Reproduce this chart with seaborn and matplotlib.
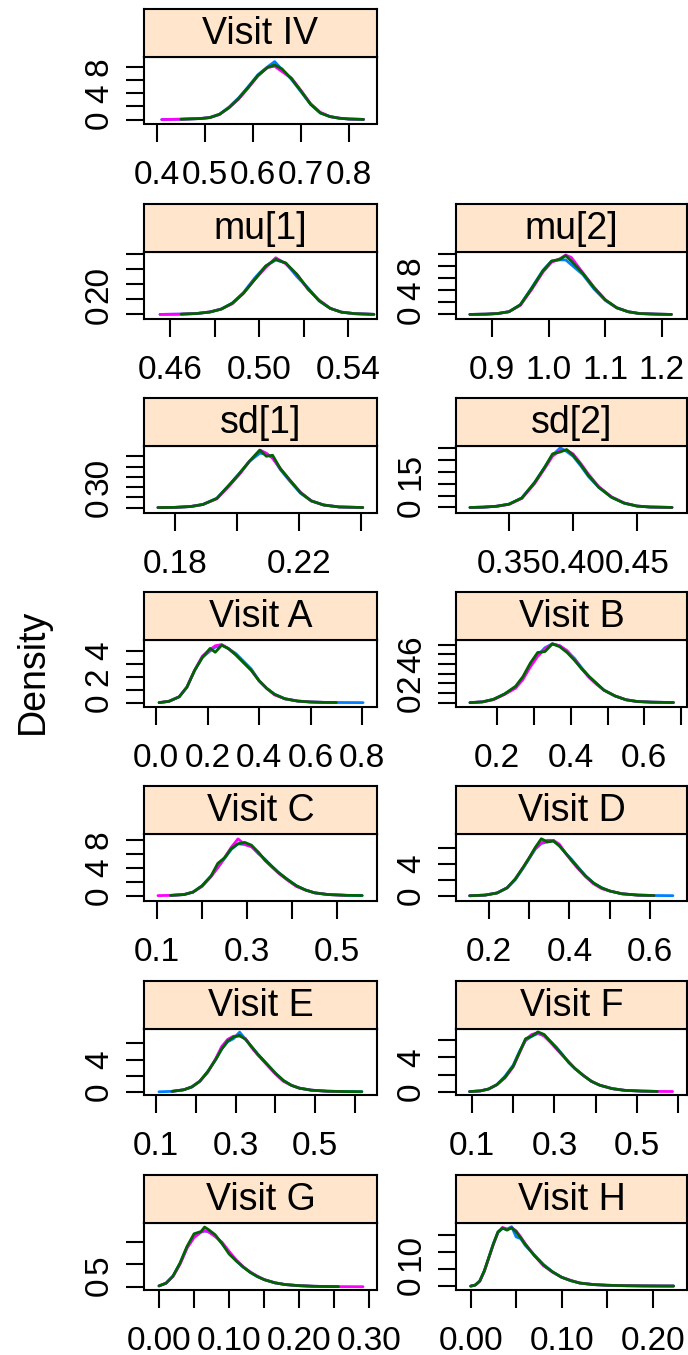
import numpy as np
import pandas as pd
import matplotlib
matplotlib.use("Agg")
import matplotlib.pyplot as plt
import seaborn as sns

nan = np.nan

# ---------------- data ----------------
chains = ["1", "2", "3"]
chain_colors = ["#0080ff", "#ff00ff", "#006400"]

iv_x = [0.41, 0.45, 0.49, 0.51, 0.53, 0.55, 0.57, 0.59, 0.61, 0.63, 0.645, 0.66, 0.68, 0.70, 0.72, 0.74, 0.76, 0.78, 0.80, 0.83]
iv_c1 = [0.0, 0.05, 0.15, 0.3, 0.8, 1.9, 3.3, 5.0, 6.8, 8.0, 8.8, 7.6, 6.1, 4.2, 2.3, 1.0, 0.45, 0.2, 0.08, 0.02]
iv_c2 = [0.0, 0.05, 0.15, 0.3, 0.75, 1.8, 3.1, 4.8, 6.6, 7.9, 8.1, 7.3, 6.3, 4.4, 2.4, 1.1, 0.45, 0.2, 0.08, 0.02]
iv_c3 = [nan, 0.05, 0.15, 0.3, 0.8, 1.8, 3.2, 4.9, 6.7, 7.9, 8.3, 7.7, 6.2, 4.3, 2.3, 1.0, 0.45, 0.2, 0.08, 0.02]

mu1_x = [0.4555, 0.465, 0.472, 0.478, 0.483, 0.488, 0.493, 0.498, 0.503, 0.5075, 0.512, 0.517, 0.522, 0.527, 0.532, 0.537, 0.543, 0.5516]
mu1_c1 = [0, 0.2, 0.6, 1.6, 3.5, 7.5, 14.5, 24, 32, 36, 34, 25, 17.5, 9, 4, 1.5, 0.5, 0.05]
mu1_c2 = [0, 0.2, 0.6, 1.7, 3.6, 7.0, 14, 23, 31, 37.5, 33.5, 26.5, 16.5, 9.5, 4, 1.5, 0.5, 0.05]
mu1_c3 = [nan, 0.2, 0.6, 1.6, 3.5, 7.5, 14, 23, 32, 36.5, 34, 26.5, 17, 9, 4, 1.5, 0.5, 0.05]

mu2_x = [0.861, 0.89, 0.91, 0.93, 0.95, 0.97, 0.99, 1.005, 1.02, 1.03, 1.04, 1.06, 1.08, 1.10, 1.12, 1.14, 1.16, 1.19, 1.2165]
mu2_c1 = [0, 0.05, 0.15, 0.45, 1.6, 4.4, 7.3, 8.8, 9.0, 9.0, 8.2, 6.6, 4.2, 2.3, 1.1, 0.45, 0.15, 0.05, 0.0]
mu2_c2 = [0, 0.05, 0.15, 0.45, 1.5, 4.1, 7.0, 8.6, 9.2, 9.8, 9.4, 6.9, 4.5, 2.4, 1.1, 0.45, 0.15, 0.05, 0.0]
mu2_c3 = [0, 0.05, 0.15, 0.45, 1.6, 4.3, 7.2, 8.8, 9.1, 9.7, 8.8, 6.8, 4.4, 2.4, 1.1, 0.45, 0.15, 0.05, 0.0]

sd1_x = [0.1745, 0.18, 0.185, 0.189, 0.1935, 0.1975, 0.201, 0.204, 0.2074, 0.2095, 0.2115, 0.214, 0.217, 0.2205, 0.224, 0.228, 0.233, 0.2406]
sd1_c1 = [0, 0.2, 1, 3, 9, 22, 34, 45, 53, 52, 49, 37, 26, 14, 6.5, 2.5, 0.6, 0.05]
sd1_c2 = [0, 0.2, 1, 3, 8.5, 21, 33, 45, 56, 53, 48, 38, 27, 15, 6.5, 2.5, 0.6, 0.05]
sd1_c3 = [0, 0.2, 1, 3, 9, 22, 34, 45, 56, 50, 51, 38, 27, 14.5, 6.5, 2.5, 0.6, 0.05]

sd2_x = [0.3195, 0.33, 0.34, 0.35, 0.36, 0.37, 0.378, 0.384, 0.39, 0.395, 0.40, 0.406, 0.412, 0.42, 0.43, 0.44, 0.45, 0.46, 0.4773]
sd2_c1 = [0, 0.15, 0.5, 1.4, 4, 10.5, 17, 22, 25, 23.5, 21.5, 17.5, 13, 8.5, 4.3, 1.8, 0.6, 0.2, 0.02]
sd2_c2 = [0, 0.15, 0.5, 1.3, 3.8, 10, 16.5, 21.5, 24, 24, 22.5, 18.5, 14, 8.8, 4.5, 1.9, 0.6, 0.2, 0.02]
sd2_c3 = [0, 0.15, 0.5, 1.4, 4, 10.5, 17, 22.5, 23.3, 24.3, 22, 18, 13.5, 8.5, 4.3, 1.8, 0.6, 0.2, 0.02]

a_x = [0.012, 0.05, 0.09, 0.12, 0.15, 0.18, 0.21, 0.23, 0.255, 0.28, 0.31, 0.34, 0.37, 0.40, 0.43, 0.46, 0.50, 0.55, 0.60, 0.65, 0.70, 0.75, 0.804]
a_c1 = [0, 0.1, 0.45, 1.2, 2.5, 3.5, 4.0, 4.3, 4.45, 4.2, 3.8, 3.2, 2.6, 1.7, 1.1, 0.65, 0.3, 0.12, 0.05, 0.02, 0.01, 0.005, 0.0]
a_c2 = [0, 0.1, 0.45, 1.2, 2.5, 3.6, 4.1, 4.4, 4.5, 4.2, 3.7, 3.1, 2.5, 1.7, 1.1, 0.6, 0.3, 0.12, 0.05, 0.02, 0.01, nan, nan]
a_c3 = [0, 0.1, 0.45, 1.2, 2.5, 3.5, 4.2, 3.9, 4.45, 4.2, 3.7, 3.1, 2.5, 1.7, 1.1, 0.65, 0.3, 0.12, 0.05, 0.02, 0.01, nan, nan]

b_x = [0.126, 0.16, 0.19, 0.22, 0.25, 0.27, 0.29, 0.31, 0.33, 0.35, 0.37, 0.39, 0.41, 0.43, 0.45, 0.47, 0.49, 0.52, 0.55, 0.58, 0.62, 0.679]
b_c1 = [0, 0.08, 0.35, 0.9, 1.6, 2.6, 3.9, 4.9, 5.7, 6.1, 5.9, 5.3, 4.6, 3.6, 2.7, 2.0, 1.3, 0.7, 0.3, 0.12, 0.05, 0.01]
b_c2 = [0, 0.08, 0.3, 0.85, 1.5, 2.4, 3.7, 4.8, 5.6, 6.1, 5.9, 5.4, 4.5, 3.5, 2.6, 1.9, 1.3, 0.7, 0.3, 0.12, 0.05, 0.01]
b_c3 = [0, 0.08, 0.35, 0.9, 1.7, 2.7, 4.1, 5.2, 5.3, 6.1, 5.8, 5.2, 4.4, 3.5, 2.7, 2.0, 1.3, 0.7, 0.3, 0.12, 0.05, 0.01]

c_x = [0.102, 0.13, 0.16, 0.18, 0.20, 0.22, 0.235, 0.25, 0.265, 0.28, 0.295, 0.31, 0.325, 0.34, 0.355, 0.37, 0.39, 0.41, 0.43, 0.45, 0.48, 0.52, 0.556]
c_c1 = [nan, 0.03, 0.15, 0.5, 1.4, 2.8, 4.0, 5.3, 6.6, 7.4, 7.3, 7.0, 6.0, 5.2, 4.2, 3.3, 2.3, 1.4, 0.8, 0.4, 0.15, 0.04, 0.01]
c_c2 = [0, 0.03, 0.15, 0.5, 1.3, 2.7, 4.0, 5.4, 6.9, 8.1, 7.3, 7.0, 6.2, 5.0, 4.1, 3.2, 2.2, 1.3, 0.8, 0.4, 0.15, 0.04, nan]
c_c3 = [nan, 0.03, 0.15, 0.5, 1.4, 2.8, 4.6, 5.4, 6.7, 7.4, 7.6, 7.2, 6.2, 5.1, 4.2, 3.3, 2.3, 1.4, 0.8, 0.4, 0.15, 0.04, 0.01]

d_x = [0.152, 0.19, 0.22, 0.245, 0.265, 0.285, 0.30, 0.315, 0.33, 0.345, 0.36, 0.375, 0.39, 0.405, 0.42, 0.44, 0.46, 0.48, 0.50, 0.53, 0.57, 0.61, 0.657]
d_c1 = [0, 0.08, 0.35, 1.0, 2.0, 3.5, 4.7, 5.9, 6.6, 6.8, 7.0, 6.3, 5.4, 4.6, 3.7, 2.5, 1.6, 1.0, 0.6, 0.25, 0.08, 0.03, 0.01]
d_c2 = [0, 0.08, 0.35, 1.0, 2.1, 3.6, 4.8, 6.0, 6.7, 7.0, 7.0, 6.5, 5.4, 4.4, 3.5, 2.4, 1.5, 0.9, 0.6, 0.25, 0.08, 0.03, nan]
d_c3 = [0, 0.08, 0.35, 1.0, 2.1, 3.6, 4.8, 6.1, 7.2, 6.8, 6.9, 6.3, 5.4, 4.5, 3.6, 2.5, 1.6, 1.0, 0.6, 0.25, 0.08, 0.03, nan]

e_x = [0.1075, 0.14, 0.17, 0.19, 0.21, 0.23, 0.25, 0.265, 0.28, 0.295, 0.31, 0.325, 0.34, 0.355, 0.37, 0.385, 0.40, 0.42, 0.44, 0.46, 0.49, 0.53, 0.57, 0.617]
e_c1 = [0, 0.05, 0.25, 0.6, 1.3, 2.5, 4.0, 5.3, 6.2, 6.6, 7.4, 6.5, 5.6, 4.7, 3.9, 3.1, 2.3, 1.4, 0.8, 0.45, 0.2, 0.07, 0.03, 0.01]
e_c2 = [nan, 0.05, 0.25, 0.6, 1.3, 2.4, 4.1, 5.6, 6.5, 6.9, 6.9, 6.6, 5.5, 4.6, 3.8, 3.0, 2.2, 1.3, 0.8, 0.45, 0.2, 0.07, 0.03, nan]
e_c3 = [nan, 0.05, 0.25, 0.6, 1.3, 2.5, 4.0, 5.3, 6.3, 6.8, 7.0, 6.5, 5.6, 4.7, 3.9, 3.1, 2.3, 1.4, 0.8, 0.45, 0.2, 0.07, 0.03, 0.01]

f_x = [0.094, 0.12, 0.14, 0.16, 0.18, 0.20, 0.215, 0.23, 0.245, 0.26, 0.275, 0.29, 0.305, 0.32, 0.335, 0.35, 0.37, 0.39, 0.41, 0.44, 0.47, 0.51, 0.55, 0.587]
f_c1 = [0, 0.08, 0.3, 0.8, 1.8, 3.1, 4.7, 6.0, 6.5, 6.8, 6.6, 5.9, 5.2, 4.3, 3.4, 2.7, 1.9, 1.2, 0.75, 0.35, 0.15, 0.06, 0.02, nan]
f_c2 = [0, 0.08, 0.3, 0.8, 1.6, 2.9, 4.5, 6.1, 6.7, 6.9, 6.5, 5.8, 5.0, 4.2, 3.5, 2.7, 1.9, 1.2, 0.75, 0.35, 0.15, 0.06, 0.02, 0.01]
f_c3 = [0, 0.08, 0.3, 0.8, 1.7, 3.0, 4.6, 6.2, 6.5, 7.0, 6.7, 5.9, 5.1, 4.3, 3.4, 2.7, 1.9, 1.2, 0.75, 0.35, 0.15, 0.06, 0.02, nan]

g_x = [0.0, 0.01, 0.02, 0.03, 0.04, 0.05, 0.06, 0.065, 0.07, 0.08, 0.09, 0.10, 0.11, 0.12, 0.13, 0.14, 0.15, 0.165, 0.18, 0.20, 0.22, 0.24, 0.256, 0.291]
g_c1 = [0.2, 0.8, 2.4, 5.2, 8.8, 11.0, 12.2, 12.4, 12.3, 11.4, 9.6, 7.6, 5.8, 4.4, 3.3, 2.3, 1.6, 0.9, 0.5, 0.25, 0.12, 0.06, 0.04, nan]
g_c2 = [0.2, 0.8, 2.3, 5.0, 8.6, 11.0, 12.2, 12.5, 12.3, 11.2, 9.9, 7.9, 6.0, 4.5, 3.3, 2.4, 1.6, 0.9, 0.5, 0.25, 0.12, 0.06, 0.04, 0.02]
g_c3 = [0.2, 0.8, 2.4, 5.3, 9.0, 11.8, 12.3, 13.3, 12.8, 11.6, 9.6, 7.3, 5.8, 4.4, 3.2, 2.3, 1.6, 0.9, 0.5, 0.25, 0.12, 0.06, 0.04, nan]

h_x = [0.0, 0.005, 0.01, 0.015, 0.02, 0.025, 0.03, 0.035, 0.04, 0.045, 0.05, 0.055, 0.06, 0.07, 0.08, 0.09, 0.10, 0.11, 0.12, 0.135, 0.15, 0.17, 0.19, 0.21, 0.223]
h_c1 = [0, 0.3, 1.5, 4.5, 8.5, 12.5, 15.8, 17.0, 16.8, 17.5, 14.5, 14.0, 12.0, 9.2, 6.4, 4.2, 2.6, 1.6, 0.9, 0.45, 0.25, 0.12, 0.06, 0.03, 0.02]
h_c2 = [0, 0.3, 1.4, 4.3, 8.3, 12.3, 15.8, 17.3, 16.8, 17.2, 16.3, 14.5, 12.5, 9.0, 6.0, 4.1, 2.6, 1.7, 0.9, 0.45, 0.25, 0.12, 0.06, 0.03, 0.02]
h_c3 = [0, 0.3, 1.5, 4.5, 8.5, 12.5, 16.0, 17.1, 16.5, 17.2, 16.0, 14.2, 12.3, 9.0, 6.2, 4.2, 2.6, 1.6, 0.9, 0.45, 0.25, 0.12, 0.06, 0.03, 0.02]

# panel titles, grid slot (row, col), tick values and tick labels
panel_names = ["Visit IV", "mu[1]", "mu[2]", "sd[1]", "sd[2]", "Visit A", "Visit B",
               "Visit C", "Visit D", "Visit E", "Visit F", "Visit G", "Visit H"]
panel_slots = [(0, 0), (1, 0), (1, 1), (2, 0), (2, 1), (3, 0), (3, 1),
               (4, 0), (4, 1), (5, 0), (5, 1), (6, 0), (6, 1)]
panel_data = [
    (iv_x, [iv_c1, iv_c2, iv_c3]), (mu1_x, [mu1_c1, mu1_c2, mu1_c3]), (mu2_x, [mu2_c1, mu2_c2, mu2_c3]),
    (sd1_x, [sd1_c1, sd1_c2, sd1_c3]), (sd2_x, [sd2_c1, sd2_c2, sd2_c3]),
    (a_x, [a_c1, a_c2, a_c3]), (b_x, [b_c1, b_c2, b_c3]), (c_x, [c_c1, c_c2, c_c3]), (d_x, [d_c1, d_c2, d_c3]),
    (e_x, [e_c1, e_c2, e_c3]), (f_x, [f_c1, f_c2, f_c3]), (g_x, [g_c1, g_c2, g_c3]), (h_x, [h_c1, h_c2, h_c3]),
]
x_ticks = [
    [0.4, 0.5, 0.6, 0.7, 0.8], [0.46, 0.48, 0.50, 0.52, 0.54], [0.9, 1.0, 1.1, 1.2],
    [0.18, 0.20, 0.22, 0.24], [0.35, 0.40, 0.45],
    [0.0, 0.2, 0.4, 0.6, 0.8], [0.2, 0.3, 0.4, 0.5, 0.6, 0.7],
    [0.1, 0.2, 0.3, 0.4, 0.5], [0.2, 0.3, 0.4, 0.5, 0.6],
    [0.1, 0.2, 0.3, 0.4, 0.5, 0.6], [0.1, 0.2, 0.3, 0.4, 0.5, 0.6],
    [0.0, 0.05, 0.10, 0.15, 0.20, 0.25, 0.30], [0.0, 0.05, 0.10, 0.15, 0.20],
]
x_labels = [
    ["0.4", "0.5", "0.6", "0.7", "0.8"], ["0.46", "", "0.50", "", "0.54"], ["0.9", "1.0", "1.1", "1.2"],
    ["0.18", "", "0.22", ""], ["0.35", "0.40", "0.45"],
    ["0.0", "0.2", "0.4", "0.6", "0.8"], ["0.2", "", "0.4", "", "0.6", ""],
    ["0.1", "", "0.3", "", "0.5"], ["0.2", "", "0.4", "", "0.6"],
    ["0.1", "", "0.3", "", "0.5", ""], ["0.1", "", "0.3", "", "0.5", ""],
    ["0.00", "", "0.10", "", "0.20", "", "0.30"], ["0.00", "", "0.10", "", "0.20"],
]
y_ticks = [
    [0, 2, 4, 6, 8], [0, 10, 20, 30, 40], [0, 2, 4, 6, 8, 10],
    [0, 10, 20, 30, 40, 50], [0, 5, 10, 15, 20, 25],
    [0, 1, 2, 3, 4], [0, 1, 2, 3, 4, 5, 6],
    [0, 2, 4, 6, 8], [0, 2, 4, 6],
    [0, 2, 4, 6], [0, 2, 4, 6],
    [0, 5, 10], [0, 5, 10, 15],
]
y_labels = [
    ["0", "", "4", "", "8"], ["0", "", "20", "", ""], ["0", "", "4", "", "8", ""],
    ["0", "", "", "30", "", ""], ["0", "", "", "15", "", ""],
    ["0", "", "2", "", "4"], ["0", "", "2", "", "4", "", "6"],
    ["0", "", "4", "", "8"], ["0", "", "4", ""],
    ["0", "", "4", ""], ["0", "", "4", ""],
    ["0", "5", ""], ["0", "", "10", ""],
]
x_limits = [(0.373, 0.858), (0.4483, 0.553), (0.8365, 1.244), (0.170, 0.2452), (0.3086, 0.489),
            (-0.0466, 0.858), (0.088, 0.716), (0.071, 0.589), (0.118, 0.692),
            (0.070, 0.655), (0.061, 0.622), (-0.0214, 0.311), (-0.0161, 0.2377)]
y_limits = [(-0.6, 9.5), (-2.7, 41.3), (-0.67, 10.3), (-4.8, 60), (-2.1, 25.8),
            (-0.3, 4.85), (-0.4, 6.5), (-0.7, 8.8), (-0.6, 7.8),
            (-0.4, 7.85), (-0.4, 7.4), (-0.6, 14.2), (-1.0, 18.6)]

# ---------------- drawing ----------------
sns.set_style("white")
plt.rcParams["font.family"] = ["Liberation Sans", "DejaVu Sans"]

W, H = 688, 1355
fig = plt.figure(figsize=(W / 100, H / 100), dpi=100)

col_px = [(144, 377), (456, 687)]
row_top = [9, 204, 398, 592, 786, 980.5, 1175]
STRIP = 48
PLOT = 66.5
palette = dict(zip(chains, chain_colors))

for i, name in enumerate(panel_names):
    r, c = panel_slots[i]
    x0, x1 = col_px[c]
    t = row_top[r]
    pb = t + STRIP + PLOT
    ax = fig.add_axes([x0 / W, 1 - pb / H, (x1 - x0) / W, PLOT / H])
    xs, ys = panel_data[i]
    frames = [pd.DataFrame({"x": xs, "density": y, "chain": ch}) for ch, y in zip(chains, ys)]
    df = pd.concat(frames, ignore_index=True).dropna()
    sns.lineplot(data=df, x="x", y="density", hue="chain", hue_order=chains,
                 palette=palette, linewidth=2.0, legend=False, errorbar=None,
                 sort=False, ax=ax)
    ax.set_xlim(*x_limits[i])
    ax.set_ylim(*y_limits[i])
    ax.set_xticks(x_ticks[i])
    ax.set_xticklabels(x_labels[i])
    ax.set_yticks(y_ticks[i])
    ax.set_yticklabels(y_labels[i])
    ax.set_xlabel("")
    ax.set_ylabel("")
    ax.tick_params(axis="both", direction="out", length=13, width=1.5,
                   labelsize=24, colors="black", left=True, bottom=True)
    ax.tick_params(axis="x", pad=13)
    ax.tick_params(axis="y", pad=8)
    for lab in ax.get_yticklabels():
        lab.set_rotation(90)
        lab.set_va("center")
        lab.set_ha("right")
    for sp in ax.spines.values():
        sp.set_visible(True)
        sp.set_color("black")
        sp.set_linewidth(1.5)
    ax.set_facecolor("white")

    sax = fig.add_axes([x0 / W, 1 - (t + STRIP) / H, (x1 - x0) / W, STRIP / H])
    sax.set_facecolor("#ffe5cc")
    sax.set_xticks([])
    sax.set_yticks([])
    for sp in sax.spines.values():
        sp.set_visible(True)
        sp.set_color("black")
        sp.set_linewidth(1.5)
    sax.text(0.5, 0.47, name, transform=sax.transAxes, ha="center", va="center",
             fontsize=27, color="black")

fig.text(33 / W, 1 - 671 / H, "Density", rotation=90, ha="center", va="center",
         fontsize=27, color="black")

fig.savefig("out.png", dpi=100)
